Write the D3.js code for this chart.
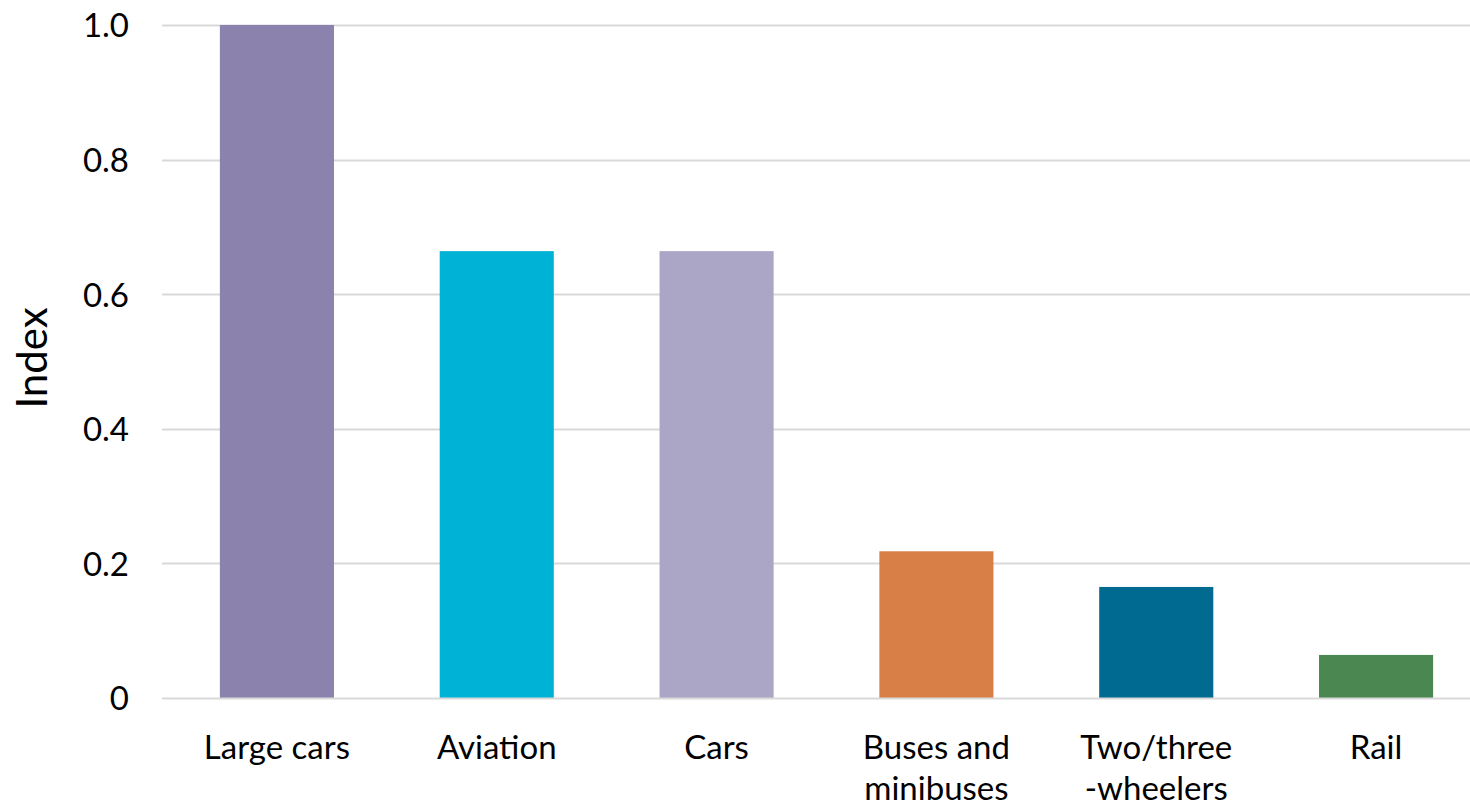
<!DOCTYPE html>
<html>
<head>
<meta charset="utf-8">
<script src="https://cdn.jsdelivr.net/npm/d3@7"></script>
<style>
  html, body { margin: 0; padding: 0; background: #ffffff; }
  svg { display: block; }
  text { font-family: Lato, "Open Sans", sans-serif; fill: #000; }
</style>
</head>
<body>
<svg id="chart" width="1470" height="808"></svg>
<script>
// Transport modes and their index values
const categories = ["Large cars", "Aviation", "Cars", "Buses and minibuses", "Two/three -wheelers", "Rail"];
const labelLines = [["Large cars"], ["Aviation"], ["Cars"], ["Buses and", "minibuses"], ["Two/three", "-wheelers"], ["Rail"]];
const values = [1.0, 0.664, 0.664, 0.218, 0.165, 0.064];
const colors = ["#8B82AD", "#00B2D5", "#ABA5C6", "#D87E47", "#006A90", "#4A8751"];
const yTicks = [0, 0.2, 0.4, 0.6, 0.8, 1.0];
const yTickLabels = ["0", "0.2", "0.4", "0.6", "0.8", "1.0"];

const svg = d3.select("#chart");
const gridLeft = 162, gridRight = 1470;

const x = d3.scaleBand()
  .domain(categories)
  .range([167, 1486])
  .paddingInner(0.481)
  .paddingOuter(0.2405);

const y = d3.scaleLinear().domain([0, 1]).range([698, 25]);

function gridLines(g, ticks) {
  g.selectAll("line")
    .data(ticks)
    .join("line")
    .attr("x1", gridLeft)
    .attr("x2", gridRight)
    .attr("y1", d => Math.round(y(d)) + 0.5)
    .attr("y2", d => Math.round(y(d)) + 0.5)
    .attr("stroke", "#d9d9d9")
    .attr("stroke-width", 2);
}

// Gridlines above zero sit behind the bars
svg.append("g").call(gridLines, yTicks.filter(d => d !== 0));

// Bars
svg.append("g")
  .selectAll("rect")
  .data(categories)
  .join("rect")
  .attr("x", d => x(d))
  .attr("width", x.bandwidth())
  .attr("y", (d, i) => y(values[i]))
  .attr("height", (d, i) => y(0) - y(values[i]))
  .attr("fill", (d, i) => colors[i]);

// Zero baseline drawn over the bars
svg.append("g").call(gridLines, [0]);

// Y axis tick labels
const yAxis = d3.axisLeft(y)
  .tickValues(yTicks)
  .tickFormat((d, i) => yTickLabels[i])
  .tickSize(0)
  .tickPadding(0);

const yg = svg.append("g")
  .attr("transform", "translate(129,0)")
  .call(yAxis);
yg.select(".domain").remove();
yg.selectAll("text")
  .attr("font-size", 33)
  .attr("font-family", "Lato, 'Open Sans', sans-serif")
  .attr("fill", "#000")
  .attr("dy", "0.36em");

// Y axis title
svg.append("text")
  .attr("transform", "translate(47,358) rotate(-90)")
  .attr("text-anchor", "middle")
  .attr("font-size", 42)
  .text("Index");

// X axis category labels
const xl = svg.append("g");
categories.forEach((c, i) => {
  const t = xl.append("text")
    .attr("x", x(c) + x.bandwidth() / 2)
    .attr("y", 759)
    .attr("text-anchor", "middle")
    .attr("font-size", 33);
  labelLines[i].forEach((line, j) => {
    t.append("tspan")
      .attr("x", x(c) + x.bandwidth() / 2)
      .attr("dy", j === 0 ? 0 : 41)
      .text(line);
  });
});
</script>
</body>
</html>
